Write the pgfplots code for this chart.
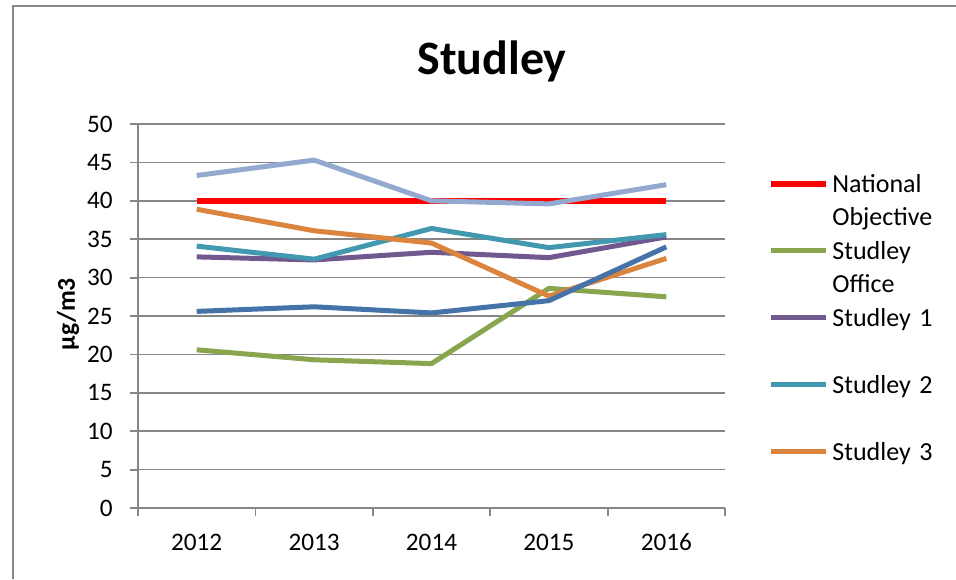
\documentclass[border=0pt]{standalone}
\usepackage{pgfplots}
\pgfplotsset{compat=1.18}
\usepackage{fontspec}
\setmainfont{Carlito}
\definecolor{cgrid}{HTML}{868686}
\definecolor{cred}{HTML}{FF0000}
\definecolor{cgreen}{HTML}{89A54E}
\definecolor{cpurple}{HTML}{71588F}
\definecolor{cteal}{HTML}{4198AF}
\definecolor{corange}{HTML}{DB843D}
\definecolor{clblue}{HTML}{93A9CF}
\definecolor{cdblue}{HTML}{4572A7}
\begin{document}
\begin{tikzpicture}
\useasboundingbox (0,0) rectangle (478pt,289.5pt);
\draw[cgrid, line width=1pt] (6.25pt,0pt) -- (6.25pt,286.5pt) -- (478pt,286.5pt);
\begin{axis}[
  at={(69pt,35.5pt)}, anchor=south west,
  scale only axis, width=293.5pt, height=192pt,
  xmin=-0.5, xmax=4.5, ymin=0, ymax=50,
  axis x line*=bottom, axis y line*=left,
  axis line style={cgrid, line width=0.9pt},
  tick align=outside, major tick length=4pt,
  tick style={cgrid, line width=0.9pt},
  xtick={-0.5,0.5,1.5,2.5,3.5,4.5}, xticklabels={},
  extra x ticks={0,1,2,3,4},
  extra x tick labels={2012,2013,2014,2015,2016},
  extra x tick style={major tick length=0pt, grid=none},
  ytick={0,5,...,50},
  ymajorgrids, grid style={cgrid, line width=0.75pt},
  /pgf/number format/assume math mode=true,
  ticklabel style={font=\fontsize{12.6}{14}\selectfont},
  yticklabel style={inner xsep=0pt, xshift=-8.5pt},
  xticklabel style={inner ysep=0pt, yshift=-12.7pt},
  ylabel={\textbf{µg/m3}},
  every axis y label/.style={at={(axis description cs:-0.1193,0.505)}, rotate=90, anchor=center, font=\fontsize{12.8}{15}\selectfont},
  title={\textbf{Studley}},
  every axis title/.style={at={(axis description cs:0.603,1.128)}, anchor=base, font=\fontsize{24}{28}\selectfont},
  legend cell align=left,
  legend image code/.code={\draw[#1] (0pt,12.2pt) -- (27.5pt,12.2pt);},
  legend style={at={(axis description cs:1.0732,0.869)}, anchor=north west, draw=none, fill=none, inner sep=0pt, row sep=0pt, column sep=1.5pt,
    nodes={inner sep=0pt, text width=62pt, align=left, text height=9pt, text depth=24.5pt, font=\fontsize{13}{16.5}\selectfont}},
  every axis plot/.append style={line width=2.5pt, line join=round},
]
\addplot[cred, line width=3pt] coordinates {(0,40) (1,40) (2,40) (3,40) (4,40)};
\addlegendentry{National\\Objective}
\addplot[cgreen] coordinates {(0,20.6) (1,19.3) (2,18.8) (3,28.6) (4,27.5)};
\addlegendentry{Studley\\Office}
\addplot[cpurple] coordinates {(0,32.7) (1,32.3) (2,33.3) (3,32.6) (4,35.3)};
\addlegendentry{Studley 1}
\addplot[cteal] coordinates {(0,34.1) (1,32.4) (2,36.4) (3,33.9) (4,35.6)};
\addlegendentry{Studley 2}
\addplot[corange] coordinates {(0,38.9) (1,36.1) (2,34.5) (3,27.6) (4,32.5)};
\addlegendentry{Studley 3}
\addplot[clblue, forget plot] coordinates {(0,43.3) (1,45.3) (2,40.0) (3,39.6) (4,42.1)};
\addplot[cdblue, forget plot] coordinates {(0,25.6) (1,26.2) (2,25.4) (3,27.0) (4,34.0)};
\end{axis}
\end{tikzpicture}
\end{document}
